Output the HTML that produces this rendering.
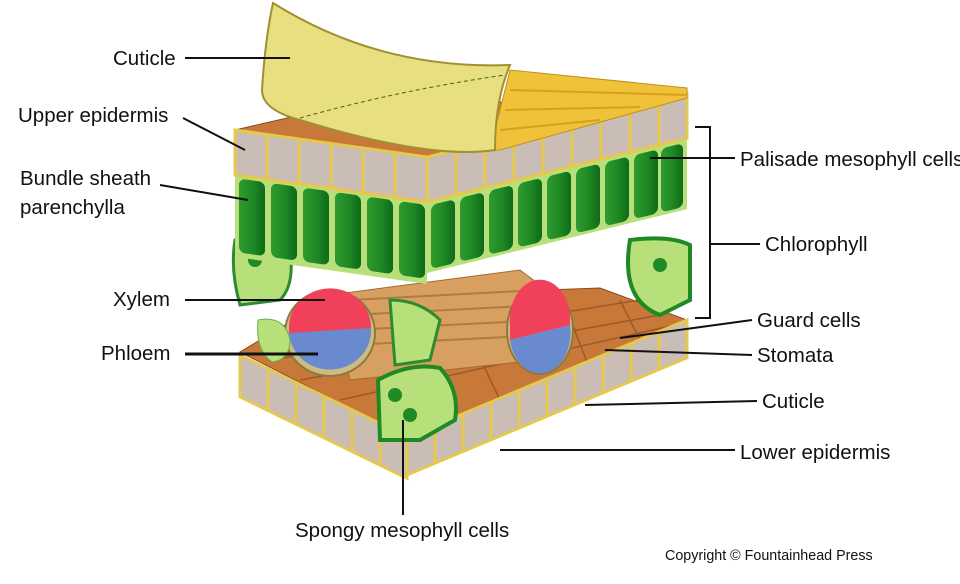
<!DOCTYPE html>
<html><head><meta charset="utf-8"><style>
html,body{margin:0;padding:0;background:#fff;width:960px;height:584px;overflow:hidden}
svg{display:block}
text{font-family:"Liberation Sans",sans-serif;font-size:20.5px;fill:#111}
</style></head><body>
<svg width="960" height="584" viewBox="0 0 960 584">
<defs>
<linearGradient id="gr" x1="0" x2="1"><stop offset="0" stop-color="#2f9a2f"/><stop offset="0.5" stop-color="#1f8a24"/><stop offset="1" stop-color="#0f6a18"/></linearGradient>
</defs>
<!-- lower slab top face -->
<polygon points="240,352 330,298 600,288 687,320 407,437" fill="#c8793a" stroke="#8a4a1c"/>
<path d="M270,360 L640,300 M300,380 L660,315 M340,400 L675,325 M380,300 L420,420 M450,295 L500,400 M560,292 L590,370 M620,300 L640,340" stroke="#9a5a2a" stroke-width="1.5" fill="none"/>
<!-- lower front left -->
<g transform="translate(240,355) skewY(26)">
<rect x="0" y="0" width="167" height="42" fill="#c9bdb5" stroke="#e6c84a" stroke-width="3"/>
<path d="M28,0V42M56,0V42M84,0V42M112,0V42M140,0V42" stroke="#e6c84a" stroke-width="3"/>
</g>
<g transform="translate(407,437) skewY(-22.7)">
<rect x="0" y="0" width="280" height="38" fill="#c9bdb5" stroke="#e6c84a" stroke-width="3"/>
<path d="M28,0V38M56,0V38M84,0V38M112,0V38M140,0V38M168,0V38M196,0V38M224,0V38M252,0V38" stroke="#e6c84a" stroke-width="3"/>
</g>
<!-- vascular bundle -->
<polygon points="330,295 520,270 560,300 540,360 350,380" fill="#d8a060" stroke="#a06a30"/>
<path d="M350,300 L540,290 M350,315 L545,305 M350,330 L545,320 M350,345 L545,335" stroke="#b07a40" stroke-width="2"/>
<ellipse cx="330" cy="333" rx="45" ry="43" fill="#cdbb80" stroke="#8a7a40" stroke-width="2"/>
<path d="M289,325 A41,39 0 0 1 371,330 L289,335Z" fill="#f0405a"/>
<path d="M289,333 L371,328 A41,39 0 0 1 289,333Z" fill="#6a8ad0"/>
<ellipse cx="540" cy="330" rx="33" ry="44" fill="#cdbb80" stroke="#8a7a40" stroke-width="2"/>
<path d="M510,325 A30,40 0 0 1 570,315 L570,325 L510,340Z" fill="#f0405a"/>
<path d="M510,340 L570,325 A30,40 0 0 1 510,340Z" fill="#6a8ad0"/>
<!-- spongy cells -->
<path d="M235,240 Q260,235 290,250 Q295,285 280,300 L240,305 Q230,270 235,240Z" fill="#b8e07a" stroke="#2e8a2e" stroke-width="3"/>
<path d="M390,300 Q420,300 440,320 L430,360 L395,365Z" fill="#b8e07a" stroke="#2e8a2e" stroke-width="3"/>
<path d="M378,380 Q410,362 440,368 Q460,390 455,420 L420,440 L380,440Z" fill="#b8e07a" stroke="#1f8a24" stroke-width="4"/>
<path d="M630,240 Q670,235 690,245 L690,300 L660,315 Q620,300 630,240Z" fill="#b8e07a" stroke="#1f8a24" stroke-width="4"/>
<path d="M258,320 Q285,315 290,340 Q290,360 272,362 Q255,350 258,320Z" fill="#b8e07a" stroke="#6ab04a"/>
<circle cx="395" cy="395" r="7" fill="#1f8a24"/><circle cx="410" cy="415" r="7" fill="#1f8a24"/><circle cx="660" cy="265" r="7" fill="#1f8a24"/><circle cx="255" cy="260" r="7" fill="#1f8a24"/>
<!-- upper slab top face -->
<polygon points="235,130 300,115 687,90 687,95 427,157" fill="#c8793a" stroke="#8a4a1c"/>
<!-- palisade -->
<g transform="translate(235,175) skewY(8)">
<rect x="0" y="0" width="192" height="82" fill="#b8e07a"/>
<rect x="4" y="3" width="26" height="74" rx="6" fill="url(#gr)"/><rect x="36" y="3" width="26" height="74" rx="6" fill="url(#gr)"/><rect x="68" y="3" width="26" height="74" rx="6" fill="url(#gr)"/><rect x="100" y="3" width="26" height="74" rx="6" fill="url(#gr)"/><rect x="132" y="3" width="26" height="74" rx="6" fill="url(#gr)"/><rect x="164" y="3" width="26" height="74" rx="6" fill="url(#gr)"/>
</g>
<g transform="translate(427,203) skewY(-13.8)">
<rect x="0" y="0" width="260" height="70" fill="#b8e07a"/>
<rect x="4" y="3" width="24" height="64" rx="6" fill="url(#gr)"/><rect x="33" y="3" width="24" height="64" rx="6" fill="url(#gr)"/><rect x="62" y="3" width="24" height="64" rx="6" fill="url(#gr)"/><rect x="91" y="3" width="24" height="64" rx="6" fill="url(#gr)"/><rect x="120" y="3" width="24" height="64" rx="6" fill="url(#gr)"/><rect x="149" y="3" width="24" height="64" rx="6" fill="url(#gr)"/><rect x="178" y="3" width="24" height="64" rx="6" fill="url(#gr)"/><rect x="207" y="3" width="24" height="64" rx="6" fill="url(#gr)"/><rect x="234" y="3" width="22" height="64" rx="6" fill="url(#gr)"/>
</g>
<!-- upper epidermis -->
<g transform="translate(235,130) skewY(8)">
<rect x="0" y="0" width="192" height="45" fill="#c9bdb5" stroke="#e6c84a" stroke-width="3"/>
<path d="M32,0V45M64,0V45M96,0V45M128,0V45M160,0V45" stroke="#e6c84a" stroke-width="3"/>
</g>
<g transform="translate(427,157) skewY(-13.8)">
<rect x="0" y="0" width="260" height="45" fill="#c9bdb5" stroke="#e6c84a" stroke-width="3"/>
<path d="M29,0V45M58,0V45M87,0V45M116,0V45M145,0V45M174,0V45M203,0V45M232,0V45" stroke="#e6c84a" stroke-width="3"/>
</g>
<!-- cuticle -->
<polygon points="490,150 510,70 687,88 687,98 500,150" fill="#f0c23a" stroke="#c09020"/>
<path d="M510,90 L687,95 M505,110 L640,107 M500,130 L600,120" stroke="#d8a020" stroke-width="2"/>
<path d="M273,3 Q380,70 510,65 Q495,100 495,150 Q430,160 300,120 Q262,110 262,90 Q265,40 273,3Z" fill="#e8df80" stroke="#a09030" stroke-width="2"/>
<path d="M300,118 Q400,90 505,75" stroke="#406020" stroke-dasharray="4,3" fill="none"/>
<!-- leader lines -->
<g stroke="#111" stroke-width="2" fill="none">
<path d="M185,58H290"/><path d="M183,118L245,150"/><path d="M160,185L248,200"/>
<path d="M185,300H325"/><path d="M185,354H318" stroke-width="3"/><path d="M403,420V515"/>
<path d="M650,158H735"/><path d="M695,127H710V318H695"/><path d="M710,244H760"/>
<path d="M620,338L752,320"/><path d="M605,350L752,355"/><path d="M585,405L757,401"/><path d="M500,450H735"/>
</g>
<text x="113" y="65">Cuticle</text>
<text x="18" y="122">Upper epidermis</text>
<text x="20" y="185">Bundle sheath</text>
<text x="20" y="214">parenchylla</text>
<text x="113" y="306">Xylem</text>
<text x="101" y="360">Phloem</text>
<text x="295" y="537">Spongy mesophyll cells</text>
<text x="740" y="166">Palisade mesophyll cells</text>
<text x="765" y="251">Chlorophyll</text>
<text x="757" y="327">Guard cells</text>
<text x="757" y="362">Stomata</text>
<text x="762" y="408">Cuticle</text>
<text x="740" y="459">Lower epidermis</text>
<text x="665" y="560" style="font-size:14.3px">Copyright © Fountainhead Press</text>
</svg>
</body></html>
